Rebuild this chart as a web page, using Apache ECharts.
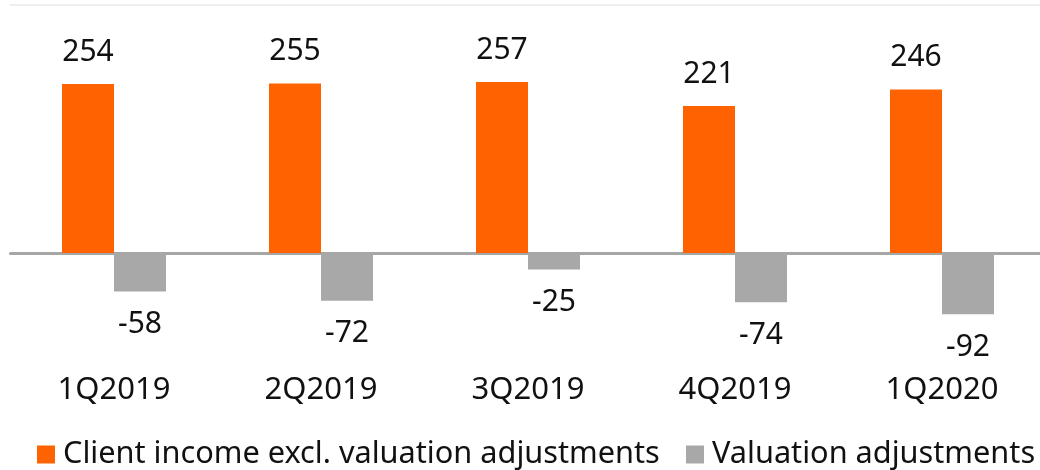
<!DOCTYPE html>
<html>
<head>
<meta charset="utf-8">
<script src="https://cdn.jsdelivr.net/npm/echarts@6/dist/echarts.min.js"></script>
<style>
  html, body { margin: 0; padding: 0; background: #fff; }
  #chart { width: 1040px; height: 470px; }
</style>
</head>
<body>
<div id="chart"></div>
<script>
// data
const quarters = ['1Q2019', '2Q2019', '3Q2019', '4Q2019', '1Q2020']
const clientIncome = [254, 255, 257, 221, 246]
const valuationAdj = [-58, -72, -25, -74, -92]
const seriesNames = ['Client income excl. valuation adjustments', 'Valuation adjustments']

const txt = { fontFamily: 'Noto Sans', fontSize: 30, color: '#111' }

// one legend per item so the second one does not wrap
const legendBase = {
  top: 434,
  itemWidth: 18,
  itemHeight: 18,
  icon: 'rect',
  textStyle: { fontFamily: 'Noto Sans', fontSize: 30.7, color: '#111', padding: [0, 0, 0, 3] }
}

var myChart = echarts.init(document.getElementById('chart'))
let option = {
  animation: false,
  color: ['#FF6200', '#A8A8A8'],
  grid: { left: 10.5, width: 1035, top: 5, height: 365, containLabel: false, outerBoundsMode: 'none' },
  legend: [
    { ...legendBase, left: 32, data: [seriesNames[0]] },
    { ...legendBase, left: 681, data: [seriesNames[1]] }
  ],
  xAxis: [
    {
      type: 'category',
      data: quarters,
      axisLine: { show: false, onZero: false },
      axisTick: { show: false },
      axisLabel: { ...txt, fontSize: 31, margin: 5 }
    },
    {
      // zero line
      type: 'category',
      data: quarters,
      position: 'bottom',
      axisLine: { onZero: true, lineStyle: { color: '#A6A6A6', width: 3 } },
      axisTick: { show: false },
      axisLabel: { show: false }
    },
    {
      // faint top border
      type: 'category',
      data: quarters,
      position: 'top',
      axisLine: { lineStyle: { color: '#EEEEEE', width: 2 } },
      axisTick: { show: false },
      axisLabel: { show: false }
    }
  ],
  yAxis: {
    type: 'value',
    min: -176,
    max: 373,
    show: false,
    splitLine: { show: false }
  },
  series: [
    {
      name: seriesNames[0],
      type: 'bar',
      barWidth: 52,
      barGap: '0%',
      data: clientIncome,
      label: { show: true, position: 'top', distance: 17, ...txt }
    },
    {
      name: seriesNames[1],
      type: 'bar',
      barWidth: 52,
      barGap: '0%',
      data: valuationAdj,
      label: { show: true, position: 'bottom', distance: 18, ...txt }
    }
  ]
}
myChart.setOption(option)
</script>
</body>
</html>
